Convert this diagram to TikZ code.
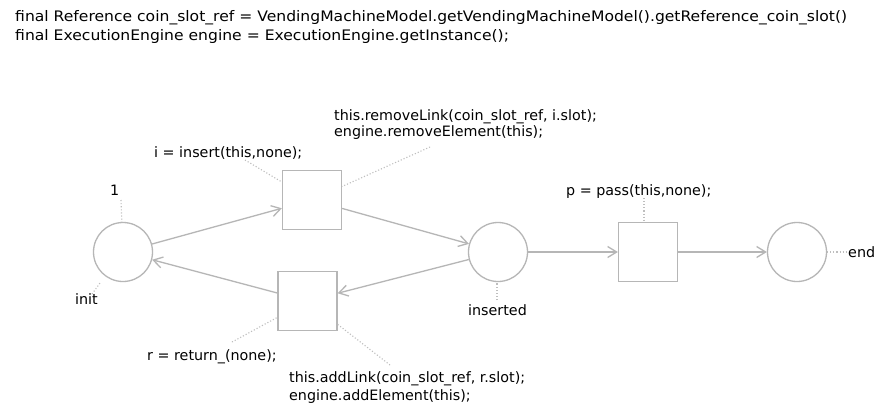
\documentclass[tikz,border=0pt]{standalone}
\usepackage{fontspec}
\setmainfont{DejaVu Sans}
\newfontfamily\hdrfont[FakeStretch=1.075]{DejaVu Sans}
\usetikzlibrary{arrows.meta}
\definecolor{netline}{RGB}{182,182,182}
\definecolor{noteline}{RGB}{190,190,190}
\tikzset{
  place/.style={circle, draw=netline, line width=1.3pt, minimum size=59pt, inner sep=0pt},
  trans/.style={rectangle, draw=netline, line width=1.3pt, minimum size=59pt, inner sep=0pt},
  arc/.style={draw=netline, line width=1.3pt, -{Straight Barb[length=9pt,width=11pt,line width=1.3pt]}},
  note/.style={draw=noteline, line width=1.1pt, dotted},
  txt/.style={anchor=base west, inner sep=0pt, font=\fontsize{14.3pt}{17pt}\selectfont, text=black},
  hdr/.style={anchor=base west, inner sep=0pt, font=\hdrfont\fontsize{14.5pt}{17pt}\selectfont, text=black},
}
\begin{document}
\begin{tikzpicture}[x=1pt,y=-1pt]
\useasboundingbox[fill=white] (0,0) rectangle (878,408);

% header declarations
\node[hdr] (hdrA) at (15,21) {final Reference coin\_slot\_ref = VendingMachineModel.getVendingMachineModel().getReference\_coin\_slot()};
\node[hdr] (hdrB) at (15,40) {final ExecutionEngine engine = ExecutionEngine.getInstance();};

% places and transitions
\node[place] (pInit) at (123,252) {};
\node[place] (pIns) at (498,252) {};
\node[place] (pEnd) at (797,252) {};
\node[trans] (tIns) at (312,200) {};
\node[trans] (tRet) at (307.5,301) {};
\node[trans] (tPass) at (648,252) {};

% arcs
\draw[arc] (pInit) -- (tIns);
\draw[arc] (tIns) -- (pIns);
\draw[arc] (pIns) -- (tRet);
\draw[arc] (tRet) -- (pInit);
\draw[arc] (pIns) -- (tPass);
\draw[arc] (tPass) -- (pEnd);

% place labels
\node[txt] (lOne) at (110,195) {1};
\coordinate (cOne) at (121,200);
\draw[note] (cOne) -- (pInit);
\node[txt] (lInit) at (75,304) {init};
\coordinate (cInitA) at (92,294);
\coordinate (cInitB) at (100,283);
\draw[note] (cInitA) -- (cInitB);
\node[txt] (lIns) at (468,315) {inserted};
\coordinate (cIns) at (497,300);
\draw[note] (cIns) -- (cIns |- pIns.south);
\node[txt] (lEnd) at (848,257) {end};
\coordinate (cEnd) at (846,252);
\draw[note] (pEnd) -- (cEnd);

% transition guards and actions
\node[txt] (gIns) at (154,157) {i = insert(this,none);};
\coordinate (cgIns) at (245,160);
\draw[note] (cgIns) -- (tIns);
\node[txt] (aInsA) at (334,120) {this.removeLink(coin\_slot\_ref, i.slot);};
\node[txt] (aInsB) at (334,136) {engine.removeElement(this);};
\coordinate (caIns) at (430,147);
\draw[note] (caIns) -- (tIns);

\node[txt] (gRet) at (147,360) {r = return\_(none);};
\coordinate (cgRet) at (232,342);
\draw[note] (cgRet) -- (tRet);
\node[txt] (aRetA) at (289,382) {this.addLink(coin\_slot\_ref, r.slot);};
\node[txt] (aRetB) at (289,400) {engine.addElement(this);};
\coordinate (caRet) at (390,365);
\draw[note] (caRet) -- (tRet);

\node[txt] (gPass) at (566,195) {p = pass(this,none);};
\coordinate (cgPass) at (644,198);
\draw[note] (cgPass) -- (cgPass |- tPass.north);
\end{tikzpicture}
\end{document}
